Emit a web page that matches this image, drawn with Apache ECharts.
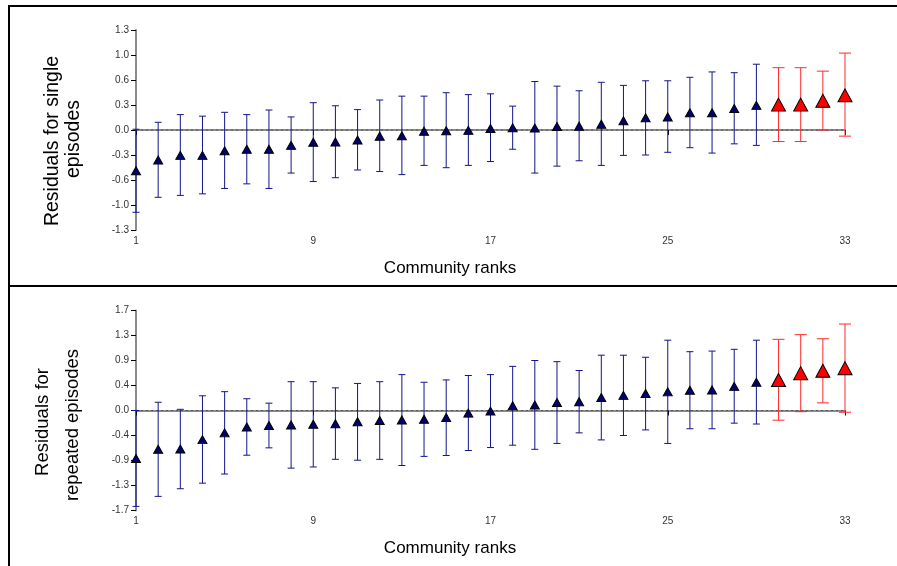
<!DOCTYPE html>
<html>
<head>
<meta charset="utf-8">
<script src="https://cdn.jsdelivr.net/npm/echarts@6/dist/echarts.min.js"></script>
<style>
  html, body { margin: 0; padding: 0; background: #fff; }
  #chart { width: 897px; height: 566px; }
</style>
</head>
<body>
<div id="chart"></div>
<script>
// Community ranks on the x axis
const ranks = [1, 2, 3, 4, 5, 6, 7, 8, 9, 10, 11, 12, 13, 14, 15, 16, 17,
               18, 19, 20, 21, 22, 23, 24, 25, 26, 27, 28, 29, 30, 31, 32, 33];
const rankTicks = ['1', '9', '17', '25', '33'];
// Ranks drawn with the large red markers
const highlightedRanks = [30, 31, 32, 33];

// Residuals for single episodes: estimate with lower / upper interval limits
const singleValue = [-0.53, -0.39, -0.33, -0.33, -0.27, -0.25, -0.25, -0.20, -0.16, -0.155, -0.13,
                     -0.08, -0.075, -0.015, -0.01, -0.005, 0.02, 0.03, 0.025, 0.045, 0.05, 0.075,
                     0.12, 0.16, 0.17, 0.225, 0.225, 0.28, 0.32, 0.33, 0.33, 0.38, 0.45];
const singleLower = [-1.07, -0.875, -0.85, -0.83, -0.76, -0.70, -0.76, -0.56, -0.67, -0.62, -0.52,
                     -0.54, -0.58, -0.46, -0.49, -0.46, -0.41, -0.25, -0.56, -0.47, -0.40, -0.46,
                     -0.33, -0.325, -0.29, -0.23, -0.30, -0.18, -0.20, -0.15, -0.15, 0.0, -0.08];
const singleUpper = [0.01, 0.10, 0.20, 0.18, 0.23, 0.20, 0.26, 0.17, 0.355, 0.315, 0.265,
                     0.39, 0.44, 0.44, 0.485, 0.46, 0.47, 0.31, 0.63, 0.57, 0.51, 0.62,
                     0.58, 0.64, 0.64, 0.685, 0.755, 0.745, 0.855, 0.81, 0.81, 0.765, 1.0];
const singleTicks = ['-1.3', '-1.0', '-0.6', '-0.3', '0.0', '0.3', '0.6', '1.0', '1.3'];

// Residuals for repeated episodes
const repeatedValue = [-0.815, -0.66, -0.655, -0.495, -0.38, -0.28, -0.255, -0.245, -0.235, -0.225, -0.19,
                       -0.17, -0.16, -0.15, -0.12, -0.045, -0.01, 0.08, 0.094, 0.135, 0.15, 0.22,
                       0.257, 0.29, 0.317, 0.345, 0.35, 0.41, 0.48, 0.52, 0.635, 0.675, 0.72];
const repeatedLower = [-1.63, -1.46, -1.33, -1.235, -1.08, -0.76, -0.635, -0.98, -0.96, -0.83, -0.845,
                       -0.83, -0.935, -0.78, -0.765, -0.68, -0.63, -0.59, -0.66, -0.56, -0.38, -0.50,
                       -0.425, -0.33, -0.56, -0.31, -0.31, -0.215, -0.23, -0.165, -0.02, 0.13, -0.03];
const repeatedUpper = [0.0, 0.14, 0.02, 0.25, 0.32, 0.20, 0.125, 0.49, 0.49, 0.385, 0.46,
                       0.49, 0.61, 0.48, 0.52, 0.595, 0.61, 0.75, 0.85, 0.83, 0.68, 0.94,
                       0.94, 0.905, 1.195, 1.0, 1.01, 1.04, 1.195, 1.21, 1.29, 1.22, 1.47];
const repeatedTicks = ['-1.7', '-1.3', '-0.9', '-0.4', '0.0', '0.4', '0.9', '1.3', '1.7'];

const FONT = "'Liberation Sans', Arial, Helvetica, sans-serif";
const NAVY = '#14148c';
const RED = '#ff2a2a';

const panels = [
  { value: singleValue, lower: singleLower, upper: singleUpper, ticks: singleTicks, lim: 1.3, top: 30 },
  { value: repeatedValue, lower: repeatedLower, upper: repeatedUpper, ticks: repeatedTicks, lim: 1.7, top: 310.5 }
];

function errorBarRenderer(color, capHalf) {
  return function (params, api) {
    const r = api.value(0);
    const lo = api.coord([r, api.value(1)]);
    const hi = api.coord([r, api.value(2)]);
    const style = { stroke: color, lineWidth: 1, fill: null };
    return {
      type: 'group',
      children: [
        { type: 'line', shape: { x1: lo[0], y1: lo[1], x2: hi[0], y2: hi[1] }, style: style },
        { type: 'line', shape: { x1: lo[0] - capHalf, y1: lo[1], x2: lo[0] + capHalf, y2: lo[1] }, style: style },
        { type: 'line', shape: { x1: hi[0] - capHalf, y1: hi[1], x2: hi[0] + capHalf, y2: hi[1] }, style: style }
      ]
    };
  };
}

const grid = [], xAxis = [], yAxis = [], series = [];
panels.forEach(function (p, i) {
  const interval = p.lim / 4;
  grid.push({ left: 136, right: 52, top: p.top, height: 200 });
  xAxis.push({
    type: 'value', gridIndex: i, min: ranks[0], max: ranks[ranks.length - 1], interval: 8,
    axisLine: { show: true, lineStyle: { color: '#8a8a8a', width: 2 } },
    axisTick: { show: true, length: 5, lineStyle: { color: '#000', width: 1 } },
    axisLabel: {
      margin: 6, color: '#333', fontSize: 10, fontFamily: FONT,
      formatter: function (v) { return rankTicks[Math.round((v - ranks[0]) / 8)]; }
    },
    splitLine: { show: false }
  });
  yAxis.push({
    type: 'value', gridIndex: i, min: -p.lim, max: p.lim, interval: interval,
    axisLine: { show: true, lineStyle: { color: '#8a8a8a', width: 2 } },
    axisTick: { show: true, length: 5, lineStyle: { color: '#000', width: 1 } },
    axisLabel: {
      margin: 7, color: '#333', fontSize: 10, fontFamily: FONT,
      formatter: function (v) { return p.ticks[Math.round((v + p.lim) / interval)]; }
    },
    splitLine: { show: false }
  });

  const normalBars = [], redBars = [], normalPts = [], redPts = [];
  ranks.forEach(function (r, k) {
    const bar = [r, p.lower[k], p.upper[k]];
    const pt = [r, p.value[k]];
    if (highlightedRanks.indexOf(r) >= 0) { redBars.push(bar); redPts.push(pt); }
    else { normalBars.push(bar); normalPts.push(pt); }
  });

  // dotted reference line at zero
  series.push({
    type: 'line', xAxisIndex: i, yAxisIndex: i, z: 1, silent: true,
    data: [[ranks[0], 0], [ranks[ranks.length - 1], 0]],
    symbol: 'none', lineStyle: { color: '#555', width: 1, type: [2, 3] }
  });
  series.push({
    type: 'custom', xAxisIndex: i, yAxisIndex: i, z: 2, silent: true,
    renderItem: errorBarRenderer(NAVY, 3.5), data: normalBars
  });
  series.push({
    type: 'custom', xAxisIndex: i, yAxisIndex: i, z: 2, silent: true,
    renderItem: errorBarRenderer(RED, 6), data: redBars
  });
  series.push({
    type: 'scatter', xAxisIndex: i, yAxisIndex: i, z: 3, silent: true,
    symbol: 'triangle', symbolSize: [9, 8], data: normalPts,
    itemStyle: { color: '#000070', borderColor: '#000', borderWidth: 1, opacity: 1 }
  });
  series.push({
    type: 'scatter', xAxisIndex: i, yAxisIndex: i, z: 3, silent: true,
    symbol: 'triangle', symbolSize: [14, 13], data: redPts,
    itemStyle: { color: '#ff0000', borderColor: '#000', borderWidth: 1, opacity: 1 }
  });
});

function label(text, x, y, size, rotate) {
  return {
    type: 'text', x: x, y: y, rotation: rotate ? Math.PI / 2 : 0,
    style: { text: text, fill: '#000', font: size + 'px ' + FONT, align: 'center', verticalAlign: 'middle' }
  };
}

const chart = echarts.init(document.getElementById('chart'), null, { renderer: 'canvas' });
chart.setOption({
  animation: false,
  backgroundColor: '#fff',
  grid: grid,
  xAxis: xAxis,
  yAxis: yAxis,
  series: series,
  graphic: [
    // panel frame and divider
    { type: 'line', shape: { x1: 9, y1: 6, x2: 897, y2: 6 }, style: { stroke: '#000', lineWidth: 2 } },
    { type: 'line', shape: { x1: 9, y1: 5, x2: 9, y2: 566 }, style: { stroke: '#000', lineWidth: 2 } },
    { type: 'line', shape: { x1: 9, y1: 286, x2: 897, y2: 286 }, style: { stroke: '#000', lineWidth: 2 } },
    label('Community ranks', 450, 268, 17, false),
    label('Community ranks', 450, 548, 17, false),
    label('Residuals for single', 53, 141, 19.5, true),
    label('episodes', 74, 139, 19.5, true),
    label('Residuals for', 43, 422, 18.5, true),
    label('repeated episodes', 73, 425, 18.5, true)
  ]
});
</script>
</body>
</html>
